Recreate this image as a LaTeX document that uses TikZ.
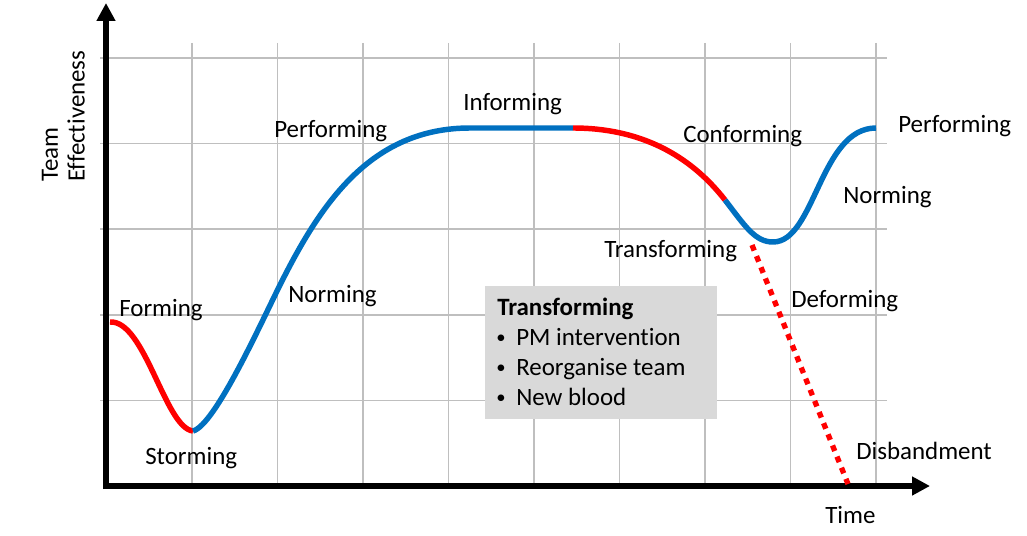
\documentclass[tikz,border=0pt]{standalone}
\usepackage{fontspec}
\setmainfont{Carlito}[Ligatures=NoCommon]
\usetikzlibrary{arrows.meta}
\definecolor{curvered}{RGB}{255,0,0}
\definecolor{curveblue}{RGB}{0,112,192}
\definecolor{gridgray}{RGB}{191,191,191}
\definecolor{boxgray}{RGB}{217,217,217}

\begin{document}
\begin{tikzpicture}[x=0.75pt,y=0.75pt,yscale=-1,xscale=1,
  lbl/.style={anchor=base west,inner sep=0pt,font=\fontsize{18.7}{22.5}\selectfont},
  stage/.style={line width=4.1pt},
  axis/.style={line width=4.5pt,-{Triangle[length=13.5pt,width=13.5pt]}}]
\useasboundingbox (0,0) rectangle (1027,535);
%Shape: Grid
\foreach \gx in {0,...,8} \draw [gridgray,line width=1.1pt] (192+85.5*\gx,43) -- (192+85.5*\gx,486);
\foreach \gy in {0,...,4} \draw [gridgray,line width=1.1pt] (100,58+85.6*\gy) -- (887,58+85.6*\gy);

%Axes
\draw [axis] (106,489) -- (106,3);
\draw [axis] (103,486) -- (930,486);

%Curve points
\coordinate (fstart) at (110,322);
\coordinate (storm) at (193,431);
\coordinate (perf) at (573,128);
\coordinate (conf) at (725,200);
\coordinate (dip) at (773,242);
\coordinate (fend) at (876,128);
\coordinate (dstart) at (752,245);
\coordinate (dend) at (848,484);

%Curve
\draw [stage,curvered] (fstart) .. controls (145,320) and (165,428) .. (storm);
\draw [stage,curveblue] (storm) .. controls (215,425) and (260,325) .. (280,285) .. controls (320,205) and (370,128) .. (470,128) -- (perf);
\draw [stage,curvered] (perf) .. controls (640,128) and (690,155) .. (conf);
\draw [stage,curveblue] (conf) .. controls (745,226) and (755,242) .. (dip) .. controls (815,242) and (820,128) .. (fend);
%Straight Lines
\draw [curvered,line width=4pt,dash pattern=on 4.5pt off 4.5pt] (dstart) -- (dend);

% Text Node
\node [lbl,rotate=90,anchor=south west,align=left,font=\fontsize{18.7}{20}\selectfont] (effect) at (85,182) {Team\\Effectiveness};
% Text Node
\node [lbl] (forming) at (119,316) {Forming};
\node [lbl] (storming) at (145,464) {Storming};
\node [lbl] (norming) at (288,302) {Norming};
\node [lbl] (performing) at (274,137) {Performing};
\node [lbl] (informing) at (463,110) {Informing};
\node [lbl] (conforming) at (683,142) {Conforming};
\node [lbl] (reperforming) at (898,132) {Performing};
\node [lbl] (renorming) at (843,203) {Norming};
\node [lbl] (transforming) at (604,257) {Transforming};
\node [lbl] (deforming) at (791,307) {Deforming};
\node [lbl] (disband) at (856,459) {Disbandment};
\node [lbl] (time) at (825,523) {Time};

%Shape: Rectangle
\node [fill=boxgray,inner sep=0pt,minimum width=174pt,minimum height=99.75pt,anchor=north west] (tbox) at (485,286) {};
% Text Node
\node [lbl] (tboxhead) at (497,315) {\textbf{Transforming}};
\foreach \txt [count=\i] in {PM intervention,Reorganise team,New blood} {
  \node [lbl,font=\fontsize{14}{14}\selectfont] (bullet\i) at (496,313+30*\i) {\textbullet};
  \node [lbl] (item\i) at (516,315+30*\i) {\txt};
}

\end{tikzpicture}
\end{document}
